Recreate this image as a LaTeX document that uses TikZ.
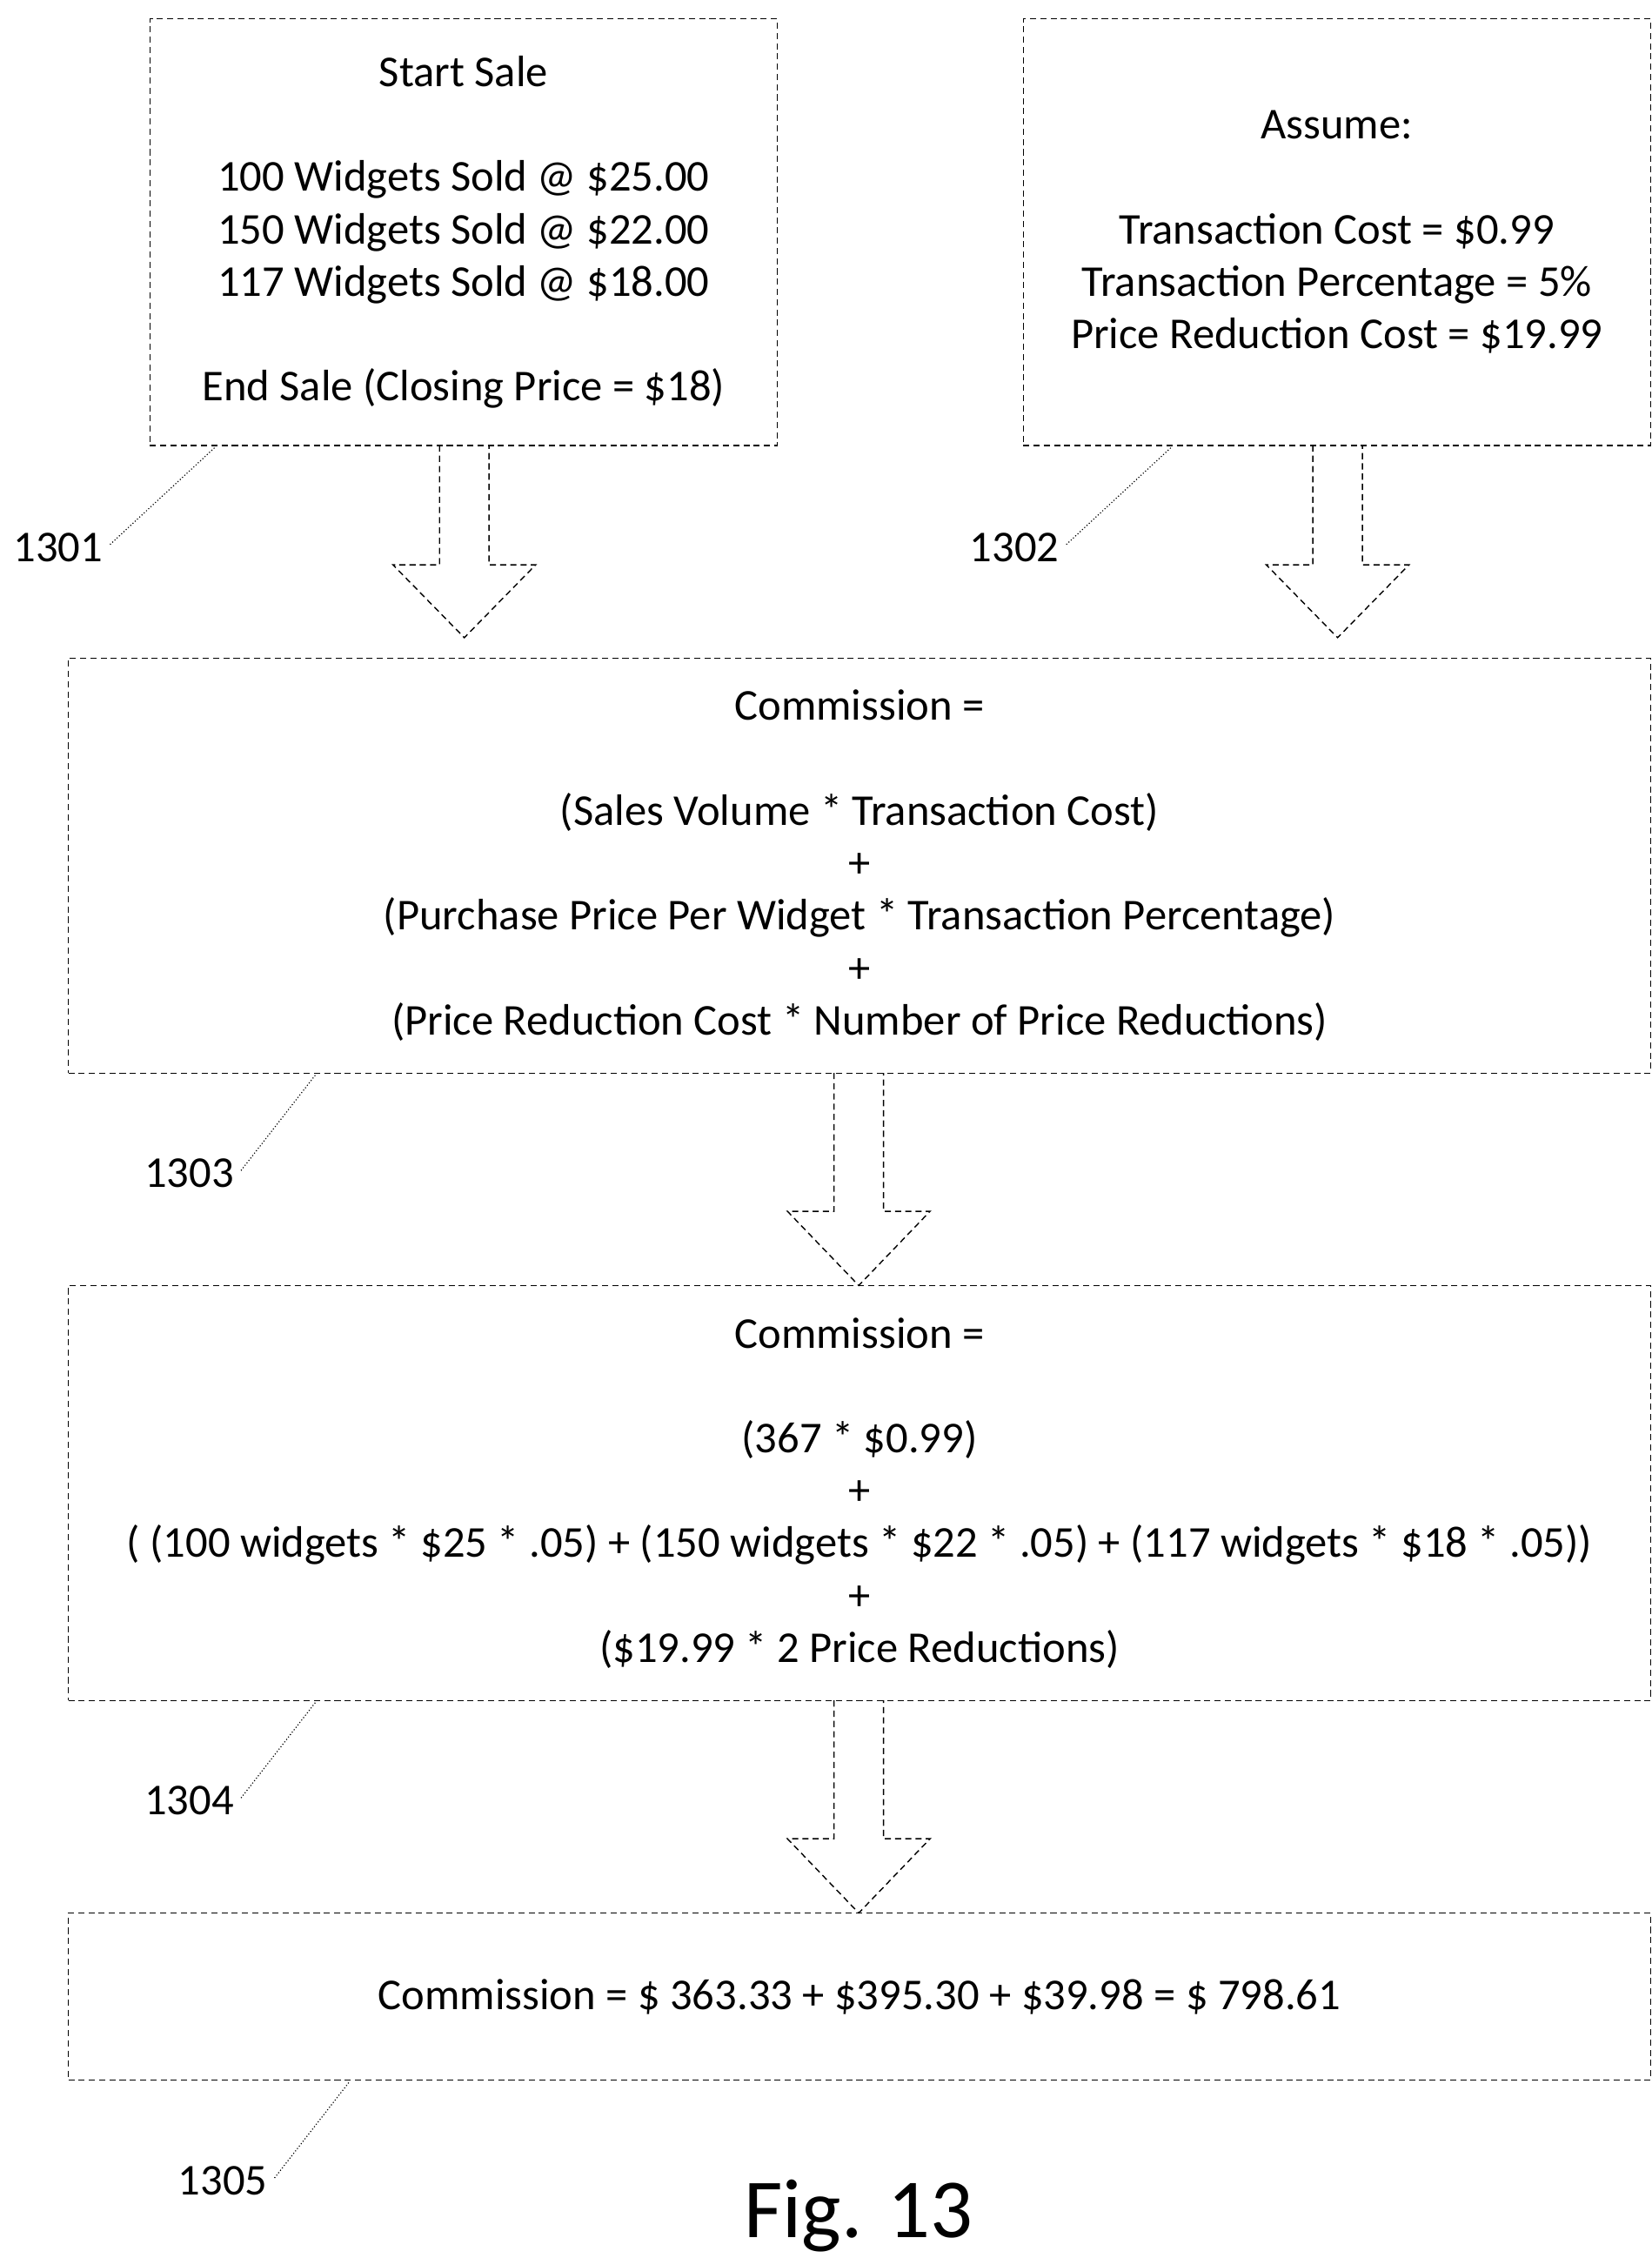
\documentclass[tikz,border=0pt]{standalone}
\usepackage{fontspec}
\setmainfont{Carlito}
\usetikzlibrary{calc}
\usetikzlibrary{positioning}
\tikzset{box/.style = {draw, densely dashed, line width = .5pt, align = center, inner sep = 0},
  leader/.style = {densely dotted, line width = .5pt},
  hollow/.style = {draw, densely dashed, line width = .6pt, line join = miter}}
% hollow down arrow: centre x, top y, head base y, tip y
\newcommand{\downarrowbox}[4]{%
  \draw [hollow] (#1-17,#2) -- (#1-17,#3) -- (#1-49,#3) -- (#1,#4) -- (#1+49,#3) -- (#1+17,#3) -- (#1+17,#2);}

\begin{document}
\begin{tikzpicture}[x=0.025cm, y=-0.025cm, font=\fontsize{21.5}{25.6}\selectfont]
\useasboundingbox (0,0) rectangle (1135,1551);
\node [box, minimum width = 431*0.025cm, minimum height = 293*0.025cm] (start) at (318.5,159.5)
  {Start Sale\\ \\100 Widgets Sold @ \$25.00\\150 Widgets Sold @ \$22.00\\117 Widgets Sold @ \$18.00\\ \\End Sale (Closing Price = \$18)};
\node [box, minimum width = 431*0.025cm, minimum height = 293*0.025cm] (assume) at (918.5,159.5)
  {Assume:\\ \\Transaction Cost = \$0.99\\Transaction Percentage = 5\%\\Price Reduction Cost = \$19.99};
\node [box, minimum width = 1087*0.025cm, minimum height = 285*0.025cm] (formula) at (590.5,594.5)
  {Commission =\\ \\(Sales Volume * Transaction Cost)\\+\\(Purchase Price Per Widget * Transaction Percentage)\\+\\(Price Reduction Cost * Number of Price Reductions)};
\node [box, minimum width = 1087*0.025cm, minimum height = 285*0.025cm] (values) at (590.5,1025.5)
  {Commission =\\ \\(367 * \$0.99)\\+\\( (100 widgets * \$25 * .05) + (150 widgets * \$22 * .05) + (117 widgets * \$18 * .05))\\+\\(\$19.99 * 2 Price Reductions)};
\node [box, minimum width = 1087*0.025cm, minimum height = 115*0.025cm] (total) at (590.5,1371.5)
  {Commission = \$ 363.33 + \$395.30 + \$39.98 = \$ 798.61};

\downarrowbox{319}{306}{388}{438}
\downarrowbox{919}{306}{388}{438}
\downarrowbox{590}{737}{832}{883}
\downarrowbox{590}{1168}{1263}{1314}

\node (l1301) at (40,376) {1301};
\node (l1302) at (697,376) {1302};
\node (l1303) at (130,806) {1303};
\node (l1304) at (130,1237) {1304};
\node (l1305) at (153,1498) {1305};
\coordinate (c1301) at (148,307);
\coordinate (c1302) at (805,307);
\coordinate (c1303) at (217,738);
\coordinate (c1304) at (217,1169);
\coordinate (c1305) at (240,1430);
\draw [leader] (l1301.east) ++(0,-2) -- (c1301);
\draw [leader] (l1302.east) ++(0,-2) -- (c1302);
\draw [leader] (l1303.east) ++(0,-2) -- (c1303);
\draw [leader] (l1304.east) ++(0,-2) -- (c1304);
\draw [leader] (l1305.east) ++(0,-2) -- (c1305);

\node [font=\fontsize{41}{46}\selectfont] (fig) at (590,1522) {Fig. 13};
\end{tikzpicture}
\end{document}
